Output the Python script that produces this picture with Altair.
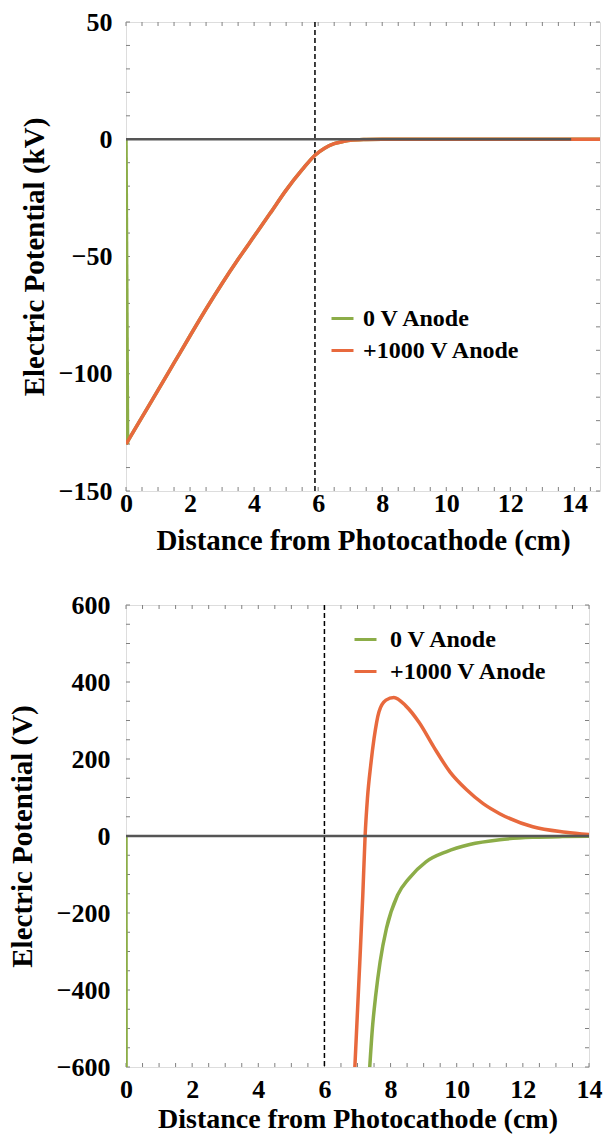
import altair as alt
import pandas as pd

FONT = "Liberation Serif"
GREEN = "#8cad48"
ORANGE = "#e8693d"
SERIES = ["0 V Anode", "+1000 V Anode"]

# ---- upper panel: potential in kV ----
TOP_CURVE_X = [0.0, 0.5, 1.0, 1.5, 2.0, 2.5, 3.0, 3.5, 4.0, 4.5, 5.0, 5.5, 5.9, 6.2, 6.5, 6.8, 7.0, 7.5, 8.0, 10.0, 12.0, 14.8]
TOP_CURVE_V = [-130, -118.5, -107, -95.4, -83.8, -72.4, -61.5, -51.2, -41.4, -31.6, -21.7, -13.0, -6.8, -3.8, -1.9, -0.9, -0.4, -0.1, 0, 0, 0, 0]
TOP_SPIKE_X = [0.0, 0.05]
TOP_SPIKE_V = [0.0, -130.0]
TOP_ZERO_X = [0.0, 13.9]
TOP_DASH_X = [5.9]

# ---- lower panel: potential in V ----
BOT_SPIKE_X = [0.0, 0.003]
BOT_SPIKE_V = [0.0, -600.0]
BOT_GREEN_X = [7.37, 7.45, 7.552, 7.683, 7.875, 8.21, 8.56, 9.07, 9.68, 10.39, 11.3, 12.3, 13.2, 14.0]
BOT_GREEN_V = [-600, -500, -413, -327, -240, -154, -110, -67, -41, -22, -9.5, -3.5, -1.5, -0.8]
BOT_ORANGE_X = [6.92, 7.07, 7.16, 7.23, 7.30, 7.40, 7.50, 7.65, 7.86, 8.10, 8.46, 8.87, 9.30, 9.80, 10.30, 10.80, 11.30, 12.30, 13.30, 14.0]
BOT_ORANGE_V = [-600, -327, -154, 0, 97, 184, 253, 323, 353, 360, 338, 294, 232, 166, 120, 84, 58, 24, 10, 4]
BOT_ZERO_X = [0.0, 14.0]
BOT_DASH_X = [6.0]

TOP_XLABELS = [0, 2, 4, 6, 8, 10, 12, 14]
TOP_YLABELS = [-150, -100, -50, 0, 50]
BOT_XLABELS = [0, 2, 4, 6, 8, 10, 12, 14]
BOT_YLABELS = [-600, -400, -200, 0, 200, 400, 600]
TOP_XMINOR = [i * 0.5 for i in range(0, 30)]
TOP_YMINOR = list(range(-150, 51, 10))
BOT_XMINOR = [i * 0.5 for i in range(0, 29)]
BOT_YMINOR = list(range(-600, 601, 50))


def frame(segments):
    rows = []
    for series, seg, xs, vs in segments:
        for i, (x, v) in enumerate(zip(xs, vs)):
            rows.append({"series": series, "seg": seg, "i": i, "x": x, "v": v})
    return pd.DataFrame(rows)


def panel(spike, green, orange, zero_x, dash_x, xdom, ydom, xlabels, ylabels, xminor, yminor,
          ytitle, W, H, legend_xy, legend_offset, xlabel_pad, ylabel_pad, ytitle_pad, xtitle_pad,
          xtitle_size):
    xs = alt.Scale(domain=xdom, nice=False, zero=False)
    ys = alt.Scale(domain=ydom, nice=False, zero=False)
    color = alt.Color(
        "series:N",
        scale=alt.Scale(domain=SERIES, range=[GREEN, ORANGE]),
        legend=alt.Legend(
            orient="none", legendX=legend_xy[0], legendY=legend_xy[1], title=None,
            symbolType="stroke", symbolSize=484, symbolStrokeWidth=3,
            labelFont=FONT, labelFontSize=24, labelFontWeight="bold", labelColor="black",
            labelOffset=legend_offset, rowPadding=7, padding=0,
        ),
    )
    common = dict(
        format="d", ticks=False, tickSize=0, domain=False, grid=False,
        labelFlush=False, labelOverlap=False,
        labelFont=FONT, labelFontSize=26, labelFontWeight="bold", labelColor="black",
        titleFont=FONT, titleFontWeight="bold", titleColor="black",
    )
    xaxis = alt.Axis(values=xlabels, title="Distance from Photocathode (cm)", titleFontSize=xtitle_size,
                     labelPadding=xlabel_pad, titlePadding=xtitle_pad, **common)
    yaxis = alt.Axis(values=ylabels, title=ytitle, titleFontSize=29,
                     labelPadding=ylabel_pad, titlePadding=ytitle_pad, **common)
    X = lambda f: alt.X(f, scale=xs, axis=xaxis)
    Y = lambda f: alt.Y(f, scale=ys, axis=yaxis)

    spike_line = alt.Chart(spike).mark_line(strokeWidth=3.5, clip=True).encode(
        x=X("x:Q"), y=Y("v:Q"), color=color, order="i:Q",
    )
    green_line = alt.Chart(green).mark_line(strokeWidth=3.5, clip=True, interpolate="monotone").encode(
        x=X("x:Q"), y=Y("v:Q"), color=color, order="i:Q",
    )
    orange_line = alt.Chart(orange).mark_line(strokeWidth=3.5, clip=True, interpolate="monotone").encode(
        x=X("x:Q"), y=Y("v:Q"), color=color, order="i:Q",
    )
    zero = alt.Chart(pd.DataFrame({"x0": [zero_x[0]], "x1": [zero_x[1]], "v": [0]})).mark_rule(
        color="#555555", strokeWidth=2.5
    ).encode(x=X("x0:Q"), x2="x1:Q", y=Y("v:Q"))
    dash = alt.Chart(pd.DataFrame({"x": dash_x})).mark_rule(
        color="black", strokeWidth=1.5, strokeDash=[5, 3]
    ).encode(x=X("x:Q"))

    tick_style = dict(color="#808080", strokeWidth=1)
    xt = pd.DataFrame({"t": xminor})
    yt = pd.DataFrame({"t": yminor})
    ticks = [
        alt.Chart(xt).mark_rule(**tick_style).encode(x=X("t:Q"), y=alt.value(H), y2=alt.value(H - 4)),
        alt.Chart(xt).mark_rule(**tick_style).encode(x=X("t:Q"), y=alt.value(0), y2=alt.value(4)),
        alt.Chart(yt).mark_rule(**tick_style).encode(y=Y("t:Q"), x=alt.value(0), x2=alt.value(4)),
        alt.Chart(yt).mark_rule(**tick_style).encode(y=Y("t:Q"), x=alt.value(W), x2=alt.value(W - 4)),
    ]
    return alt.layer(*ticks, dash, spike_line, green_line, orange_line, zero).properties(width=W, height=H)


top_spike = frame([(SERIES[0], "a", TOP_SPIKE_X, TOP_SPIKE_V)])
top_green = frame([(SERIES[0], "b", TOP_CURVE_X, TOP_CURVE_V)])
top_orange = frame([(SERIES[1], "c", TOP_CURVE_X, TOP_CURVE_V)])
bot_spike = frame([(SERIES[0], "a", BOT_SPIKE_X, BOT_SPIKE_V)])
bot_green = frame([(SERIES[0], "b", BOT_GREEN_X, BOT_GREEN_V)])
bot_orange = frame([(SERIES[1], "c", BOT_ORANGE_X, BOT_ORANGE_V)])

top = panel(top_spike, top_green, top_orange, TOP_ZERO_X, TOP_DASH_X, [0, 14.8], [-150, 50],
            TOP_XLABELS, TOP_YLABELS, TOP_XMINOR, TOP_YMINOR, "Electric Potential (kV)",
            474, 469, (204, 284), 8, -1, 14, 9, 10, 29)
bottom = panel(bot_spike, bot_green, bot_orange, BOT_ZERO_X, BOT_DASH_X, [0, 14], [-600, 600],
               BOT_XLABELS, BOT_YLABELS, BOT_XMINOR, BOT_YMINOR, "Electric Potential (V)",
               463, 462, (227, 22), 12, 9, 16, 19, 3, 28)

chart = alt.vconcat(top, bottom, spacing=35).resolve_scale(color="independent").properties(
    padding={"left": 7, "top": 8, "right": 0, "bottom": 0}
).configure_view(stroke="#8a8a8a", strokeWidth=1.5).configure(background="white")

chart.save("out.html", embed_options={"renderer": "svg", "actions": False})
